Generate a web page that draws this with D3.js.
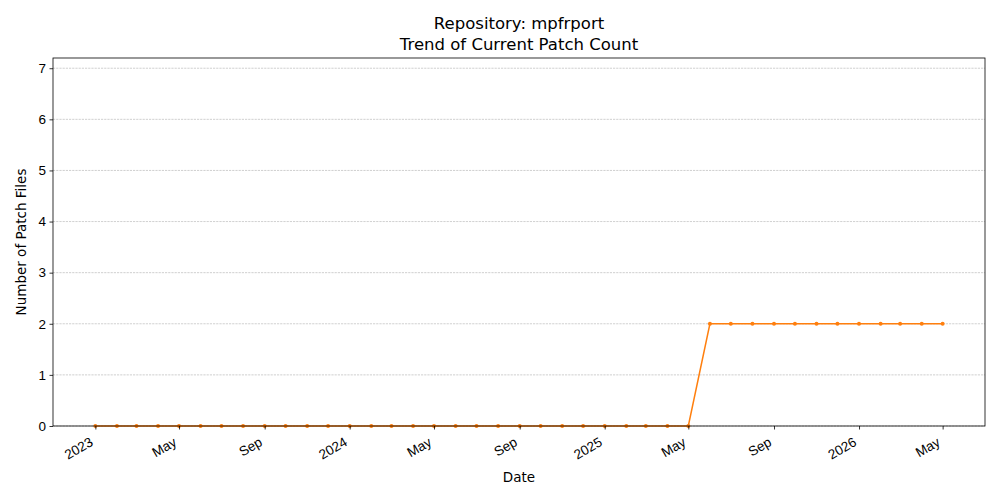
<!DOCTYPE html>
<html>
<head>
<meta charset="utf-8">
<script src="https://cdn.jsdelivr.net/npm/d3@7"></script>
<style>
  body { margin: 0; background: #fff; }
  svg { font-family: "DejaVu Sans", sans-serif; }
</style>
</head>
<body>
<div id="chart"></div>
<script>
// monthly snapshots, first of month
const months = [
  "2023-01", "2023-02", "2023-03", "2023-04", "2023-05", "2023-06", "2023-07", "2023-08", "2023-09", "2023-10", "2023-11", "2023-12",
  "2024-01", "2024-02", "2024-03", "2024-04", "2024-05", "2024-06", "2024-07", "2024-08", "2024-09", "2024-10", "2024-11", "2024-12",
  "2025-01", "2025-02", "2025-03", "2025-04", "2025-05", "2025-06", "2025-07", "2025-08", "2025-09", "2025-10", "2025-11", "2025-12",
  "2026-01", "2026-02", "2026-03", "2026-04", "2026-05"
];
const patchCounts = [
  0, 0, 0, 0, 0, 0, 0, 0, 0, 0, 0, 0,
  0, 0, 0, 0, 0, 0, 0, 0, 0, 0, 0, 0,
  0, 0, 0, 0, 0, 2, 2, 2, 2, 2, 2, 2,
  2, 2, 2, 2, 2
];
const tickMonths = ["2023-01", "2023-05", "2023-09", "2024-01", "2024-05", "2024-09", "2025-01", "2025-05", "2025-09", "2026-01", "2026-05"];
const tickLabels = ["2023", "May", "Sep", "2024", "May", "Sep", "2025", "May", "Sep", "2026", "May"];
const yTicks = [0, 1, 2, 3, 4, 5, 6, 7];
const yMax = 7.2;

const parseMonth = d3.timeParse("%Y-%m");
const data = months.map((m, i) => ({ date: parseMonth(m), value: patchCounts[i] }));

const width = 1000;
const height = 500;
const margin = { top: 58, right: 15, bottom: 74, left: 53 };
const w = width - margin.left - margin.right;
const h = height - margin.top - margin.bottom;

const svg = d3.select('#chart')
  .append('svg')
  .attr('width', width)
  .attr('height', height);

const g = svg.append('g')
  .attr('transform', `translate(${margin.left},${margin.top})`);

// matplotlib-style 5% padding on the date range
const ext = d3.extent(data, d => d.date);
const pad = (ext[1] - ext[0]) * 0.05;
const xScale = d3.scaleTime()
  .domain([new Date(+ext[0] - pad), new Date(+ext[1] + pad)])
  .range([0, w]);

const yScale = d3.scaleLinear()
  .domain([0, yMax])
  .range([h, 0]);

// grid
g.append('g')
  .selectAll('line')
  .data(yTicks)
  .enter()
  .append('line')
  .attr('x1', 0)
  .attr('x2', w)
  .attr('y1', d => yScale(d))
  .attr('y2', d => yScale(d))
  .attr('stroke', '#b0b0b0')
  .attr('stroke-width', 0.6)
  .attr('stroke-dasharray', '2.2,1');

// line + markers
const line = d3.line()
  .x(d => xScale(d.date))
  .y(d => yScale(d.value));

g.append('path')
  .datum(data)
  .attr('fill', 'none')
  .attr('stroke', '#ff7f0e')
  .attr('stroke-width', 1.5)
  .attr('d', line);

g.selectAll('.dot')
  .data(data)
  .enter()
  .append('circle')
  .attr('class', 'dot')
  .attr('cx', d => xScale(d.date))
  .attr('cy', d => yScale(d.value))
  .attr('r', 2)
  .attr('fill', '#ff7f0e');

// axes
const xAxis = g.append('g')
  .attr('transform', `translate(0,${h})`)
  .call(d3.axisBottom(xScale)
    .tickValues(tickMonths.map(parseMonth))
    .tickFormat((d, i) => tickLabels[i])
    .tickSize(3.5)
    .tickPadding(3.5));

xAxis.selectAll('text')
  .attr('font-size', 13.5)
  .attr('fill', '#000')
  .attr('x', 0)
  .attr('y', 0)
  .attr('text-anchor', 'end')
  .attr('dy', '0.75em')
  .attr('transform', 'translate(-7,10) rotate(-30)');

const yAxis = g.append('g')
  .call(d3.axisLeft(yScale)
    .tickValues(yTicks)
    .tickFormat(d3.format('d'))
    .tickSize(3.5)
    .tickPadding(3.5));

yAxis.selectAll('text')
  .attr('font-size', 13.5)
  .attr('fill', '#000');

g.selectAll('.domain').remove();
g.selectAll('.tick line').attr('stroke', '#000').attr('stroke-width', 0.8);

// frame
g.append('rect')
  .attr('width', w)
  .attr('height', h)
  .attr('fill', 'none')
  .attr('stroke', '#000')
  .attr('stroke-width', 0.8);

// titles and labels
svg.append('text')
  .attr('x', margin.left + w / 2)
  .attr('y', 29)
  .attr('text-anchor', 'middle')
  .attr('font-size', 16.5)
  .text('Repository: mpfrport');

svg.append('text')
  .attr('x', margin.left + w / 2)
  .attr('y', 50)
  .attr('text-anchor', 'middle')
  .attr('font-size', 16.5)
  .text('Trend of Current Patch Count');

svg.append('text')
  .attr('x', margin.left + w / 2)
  .attr('y', 482)
  .attr('text-anchor', 'middle')
  .attr('font-size', 13.5)
  .text('Date');

svg.append('text')
  .attr('transform', `translate(26,${margin.top + h / 2}) rotate(-90)`)
  .attr('text-anchor', 'middle')
  .attr('font-size', 13.5)
  .text('Number of Patch Files');
</script>
</body>
</html>
